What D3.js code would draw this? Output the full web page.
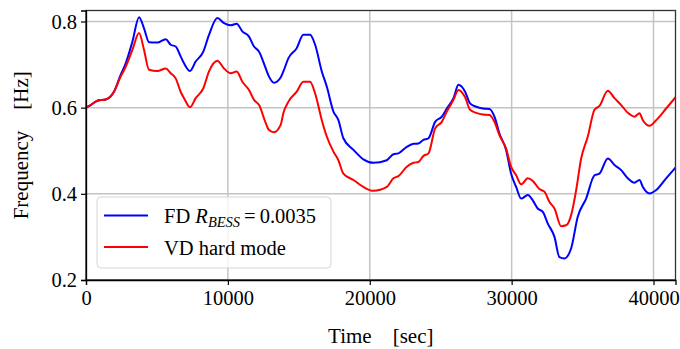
<!DOCTYPE html>
<html>
<head>
<meta charset="utf-8">
<script src="https://cdn.jsdelivr.net/npm/d3@7"></script>
<style>
  body { margin: 0; background: #fff; }
  #wrapper { width: 680px; height: 349px; }
  svg text { font-family: "Liberation Serif", "DejaVu Serif", serif !important; fill: #000; }
</style>
</head>
<body>
<div id="wrapper"></div>
<script>
// FD R_BESS = 0.0035 (blue)
const fdTime = [0, 330, 800, 1390, 1970, 2440, 2800, 3270, 3740, 4090, 4440, 5030, 5620, 5970, 6320, 6670, 6910, 7330, 7730, 8270, 8670, 9260, 9730, 10200, 10620, 11020, 11490, 11840, 12200, 12670, 12900, 13250, 13720, 13910, 14270, 14850, 15320, 15790, 16150, 16620, 16970, 17440, 17790, 18140, 18850, 19550, 20260, 21200, 21670, 22020, 22610, 23080, 23430, 23780, 24140, 24610, 25080, 25430, 25900, 26250, 26720, 27070, 27500, 27970, 28440, 28790, 29140, 29610, 29960, 30320, 30670, 31140, 31490, 31840, 32200, 32550, 33020, 33370, 33720, 34190, 34660, 35250, 35840, 36190, 36780, 37250, 37720, 38190, 38660, 39010, 39250, 39720, 40190, 40890, 41550];
const fdFreq = [0.600, 0.606, 0.616, 0.619, 0.637, 0.676, 0.703, 0.753, 0.810, 0.784, 0.752, 0.751, 0.759, 0.746, 0.742, 0.719, 0.703, 0.685, 0.707, 0.730, 0.769, 0.808, 0.796, 0.791, 0.795, 0.777, 0.765, 0.742, 0.730, 0.691, 0.672, 0.658, 0.670, 0.684, 0.715, 0.738, 0.769, 0.769, 0.746, 0.684, 0.649, 0.591, 0.571, 0.529, 0.502, 0.480, 0.472, 0.478, 0.492, 0.494, 0.509, 0.516, 0.517, 0.525, 0.529, 0.567, 0.579, 0.598, 0.622, 0.653, 0.637, 0.610, 0.602, 0.598, 0.597, 0.579, 0.540, 0.502, 0.447, 0.416, 0.389, 0.397, 0.385, 0.366, 0.358, 0.331, 0.300, 0.253, 0.250, 0.273, 0.347, 0.389, 0.443, 0.447, 0.482, 0.467, 0.455, 0.436, 0.426, 0.432, 0.416, 0.401, 0.409, 0.436, 0.461];

// VD hard mode (red)
const vdTime = [0, 330, 800, 1390, 1970, 2440, 2800, 3270, 3740, 4090, 4440, 5030, 5620, 5970, 6320, 6670, 6910, 7330, 7730, 8270, 8670, 9260, 9730, 10200, 10620, 11020, 11490, 11840, 12200, 12670, 12900, 13250, 13720, 13910, 14270, 14850, 15320, 15790, 16150, 16620, 16970, 17440, 17790, 18140, 18850, 19550, 20260, 21200, 21670, 22020, 22610, 23080, 23430, 23780, 24140, 24610, 25080, 25430, 25900, 26250, 26720, 27070, 27500, 27970, 28440, 28790, 29140, 29610, 29960, 30320, 30670, 31140, 31490, 31960, 32310, 32670, 33020, 33490, 33840, 34190, 34550, 34900, 35370, 35840, 36190, 36780, 37250, 37720, 38190, 38660, 39010, 39250, 39720, 40190, 40890, 41550];
const vdFreq = [0.600, 0.606, 0.616, 0.619, 0.637, 0.672, 0.695, 0.734, 0.773, 0.734, 0.688, 0.685, 0.691, 0.680, 0.668, 0.637, 0.622, 0.601, 0.622, 0.645, 0.684, 0.709, 0.691, 0.680, 0.684, 0.660, 0.641, 0.618, 0.606, 0.564, 0.548, 0.543, 0.560, 0.587, 0.614, 0.637, 0.660, 0.660, 0.633, 0.571, 0.533, 0.498, 0.478, 0.447, 0.432, 0.416, 0.407, 0.416, 0.436, 0.441, 0.463, 0.472, 0.474, 0.488, 0.494, 0.552, 0.567, 0.591, 0.618, 0.641, 0.624, 0.595, 0.588, 0.584, 0.583, 0.567, 0.536, 0.505, 0.463, 0.443, 0.422, 0.436, 0.430, 0.411, 0.405, 0.381, 0.366, 0.325, 0.327, 0.350, 0.409, 0.482, 0.533, 0.595, 0.604, 0.639, 0.622, 0.606, 0.588, 0.579, 0.587, 0.571, 0.558, 0.571, 0.598, 0.624];

const xTicks = [0, 10000, 20000, 30000, 40000];
const yTicks = [0.2, 0.4, 0.6, 0.8];
const xDomain = [0, 41550];
const yDomain = [0.2, 0.8255];

const serif = '"Liberation Serif", "DejaVu Serif", serif';

function buildPlot() {
    const fdData = fdTime.map((t, i) => ({ t: t, f: fdFreq[i] }));
    const vdData = vdTime.map((t, i) => ({ t: t, f: vdFreq[i] }));
    const xAccessor = d => d.t;
    const yAccessor = d => d.f;

    const dimension = {
        width: 680,
        height: 349,
        margin: { top: 10.5, left: 86, bottom: 69, right: 4.5 }
    };
    dimension.boundedWidth = dimension.width - dimension.margin.left - dimension.margin.right;
    dimension.boundedHeight = dimension.height - dimension.margin.top - dimension.margin.bottom;

    const svg = d3.select("#wrapper").append("svg")
        .attr("width", dimension.width)
        .attr("height", dimension.height);

    const bounded = svg.append("g")
        .attr("transform", `translate(${dimension.margin.left}, ${dimension.margin.top})`);

    const xScaler = d3.scaleLinear().domain(xDomain).range([0, dimension.boundedWidth]);
    const yScaler = d3.scaleLinear().domain(yDomain).range([dimension.boundedHeight, 0]);

    // grid
    bounded.append("g").selectAll("line").data(xTicks).join("line")
        .attr("x1", d => xScaler(d)).attr("x2", d => xScaler(d))
        .attr("y1", 0).attr("y2", dimension.boundedHeight)
        .attr("stroke", "#c4c4c4").attr("stroke-width", 1.5);
    bounded.append("g").selectAll("line").data(yTicks).join("line")
        .attr("x1", 0).attr("x2", dimension.boundedWidth)
        .attr("y1", d => yScaler(d)).attr("y2", d => yScaler(d))
        .attr("stroke", "#c4c4c4").attr("stroke-width", 1.5);

    const lineGen = d3.line()
        .x(d => xScaler(xAccessor(d)))
        .y(d => yScaler(yAccessor(d)))
        .curve(d3.curveMonotoneX);

    bounded.append("path")
        .attr("d", lineGen(fdData))
        .attr("fill", "none").attr("stroke", "#0000ff").attr("stroke-width", 2);
    bounded.append("path")
        .attr("d", lineGen(vdData))
        .attr("fill", "none").attr("stroke", "#ff0000").attr("stroke-width", 2);

    // frame
    bounded.append("rect")
        .attr("width", dimension.boundedWidth).attr("height", dimension.boundedHeight)
        .attr("fill", "none").attr("stroke", "#333").attr("stroke-width", 1.3);

    const xAxis = d3.axisBottom(xScaler).tickValues(xTicks).tickFormat(d3.format("d")).tickSizeOuter(0).tickSize(5).tickPadding(4);
    const yAxis = d3.axisLeft(yScaler).tickValues(yTicks).tickFormat(d3.format(".1f")).tickSizeOuter(0).tickSize(5).tickPadding(4);

    bounded.append("g")
        .attr("transform", `translate(0, ${dimension.boundedHeight})`)
        .call(xAxis)
        .attr("font-family", serif)
        .call(g => g.select(".domain").attr("stroke", "#000").attr("stroke-width", 1.3))
        .call(g => g.selectAll(".tick line").attr("stroke", "#000").attr("stroke-width", 1.2))
        .call(g => g.selectAll(".tick text").style("font-family", serif).style("font-size", "20.5px").attr("dy", "0.8em"));

    bounded.append("g")
        .call(yAxis)
        .attr("font-family", serif)
        .call(g => g.select(".domain").attr("stroke", "#000").attr("stroke-width", 1.3))
        .call(g => g.selectAll(".tick line").attr("stroke", "#000").attr("stroke-width", 1.2))
        .call(g => g.selectAll(".tick text").style("font-family", serif).style("font-size", "20.5px"));

    // axis labels
    svg.append("text")
        .attr("x", dimension.margin.left + dimension.boundedWidth / 2)
        .attr("y", 343)
        .attr("text-anchor", "middle")
        .style("font-size", "21px")
        .call(t => t.append("tspan").text("Time"))
        .call(t => t.append("tspan").attr("dx", "1em").text("[sec]"));

    svg.append("text")
        .attr("transform", `translate(28, ${dimension.margin.top + dimension.boundedHeight / 2}) rotate(-90)`)
        .attr("text-anchor", "middle")
        .style("font-size", "21px")
        .call(t => t.append("tspan").text("Frequency"))
        .call(t => t.append("tspan").attr("dx", "1em").text("[Hz]"));

    // legend
    const legend = bounded.append("g").attr("transform", "translate(11, 186.5)");
    legend.append("rect")
        .attr("width", 234).attr("height", 71).attr("rx", 4)
        .attr("fill", "#fff").attr("fill-opacity", 0.8)
        .attr("stroke", "#d6d6d6").attr("stroke-width", 1);

    const items = [
        { color: "#0000ff", y: 18.5 },
        { color: "#ff0000", y: 50 }
    ];
    legend.selectAll(".lg").data(items).join("line")
        .attr("x1", 7).attr("x2", 51)
        .attr("y1", d => d.y).attr("y2", d => d.y)
        .attr("stroke", d => d.color).attr("stroke-width", 2);

    const t1 = legend.append("text").attr("x", 67).attr("y", 26).style("font-size", "20.5px");
    t1.append("tspan").text("FD ");
    t1.append("tspan").style("font-style", "italic").text("R");
    t1.append("tspan").style("font-style", "italic").style("font-size", "14.5px").attr("dy", 4).text("BESS");
    t1.append("tspan").attr("dy", -4).attr("dx", 4).text("=");
    t1.append("tspan").attr("dx", 4).text("0.0035");

    legend.append("text").attr("x", 67).attr("y", 58).style("font-size", "20.5px").text("VD hard mode");
}

buildPlot();
</script>
</body>
</html>
